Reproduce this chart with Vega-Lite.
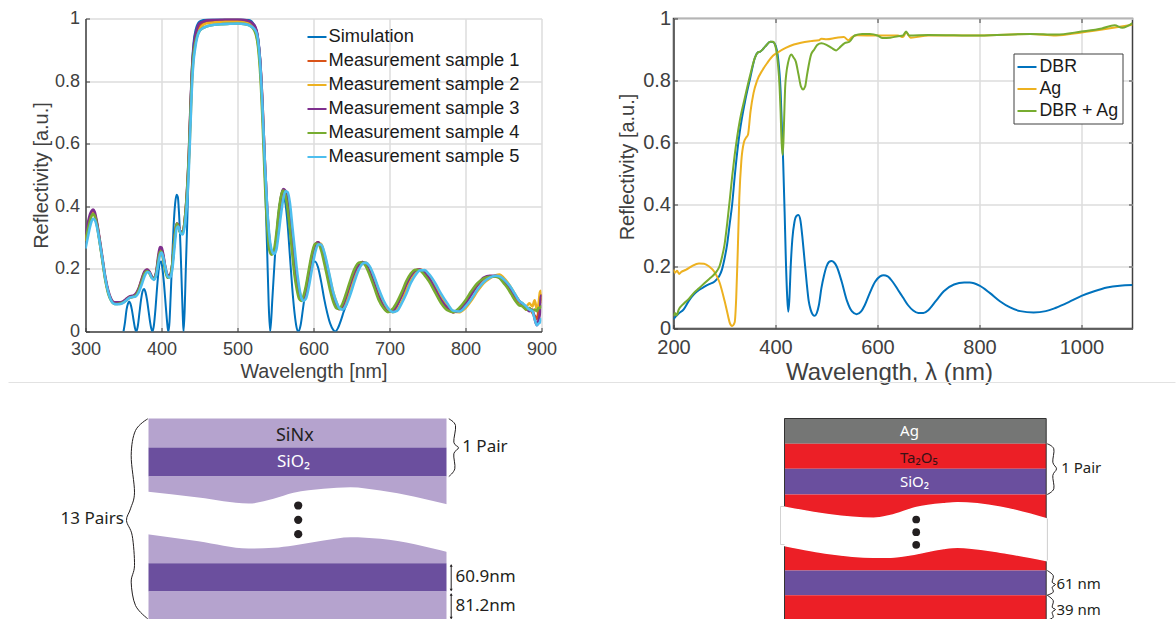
{"$schema":"https://vega.github.io/schema/vega-lite/v6.json","background":"white","padding":{"left":7.5,"top":7.5,"right":0,"bottom":0},"columns":2,"align":"each","bounds":"flush","spacing":{"row":51,"column":132},"resolve":{"scale":{"color":"independent"},"legend":{"color":"independent"}},
"config":{"font":"Liberation Sans","view":{"stroke":null},"axis":{"domainColor":"#404040","domainWidth":1.5,"tickColor":"#404040","tickWidth":1,"gridColor":"#dcdcdc","gridWidth":1.5,"labelColor":"#404040","titleColor":"#404040","titleFontWeight":"normal","labelFlush":false,"labelOverlap":false}},
"concat":[
{"width":456,"height":313,"layer":[
{"data":{"values":[{"w":350,"R":0},{"w":352,"R":0.03},{"w":354,"R":0.07},{"w":356,"R":0.09},{"w":357.5,"R":0.096},{"w":359,"R":0.09},{"w":361,"R":0.07},{"w":363,"R":0.04},{"w":365,"R":0.012},{"w":366.8,"R":0},{"w":369,"R":0.02},{"w":371,"R":0.06},{"w":373,"R":0.1},{"w":375,"R":0.128},{"w":377,"R":0.136},{"w":379,"R":0.125},{"w":381,"R":0.1},{"w":383,"R":0.065},{"w":385,"R":0.03},{"w":386.5,"R":0.01},{"w":388,"R":0},{"w":390,"R":0.02},{"w":392,"R":0.07},{"w":394,"R":0.135},{"w":396,"R":0.19},{"w":398,"R":0.222},{"w":399.5,"R":0.224},{"w":401,"R":0.205},{"w":403,"R":0.16},{"w":405,"R":0.1},{"w":407,"R":0.04},{"w":408,"R":0.015},{"w":409,"R":0},{"w":410.5,"R":0.03},{"w":412,"R":0.11},{"w":414,"R":0.23},{"w":416,"R":0.34},{"w":418,"R":0.41},{"w":420,"R":0.437},{"w":421.5,"R":0.43},{"w":423,"R":0.38},{"w":425,"R":0.27},{"w":427,"R":0.12},{"w":428,"R":0.05},{"w":429,"R":0},{"w":430.5,"R":0.07},{"w":432,"R":0.2},{"w":434,"R":0.36},{"w":436,"R":0.55},{"w":438,"R":0.72},{"w":440,"R":0.85},{"w":442,"R":0.92},{"w":445,"R":0.965},{"w":450,"R":0.99},{"w":455,"R":0.995},{"w":460,"R":0.997},{"w":480,"R":0.998},{"w":500,"R":0.998},{"w":515,"R":0.995},{"w":522,"R":0.98},{"w":527,"R":0.94},{"w":530,"R":0.87},{"w":533,"R":0.72},{"w":535,"R":0.58},{"w":537,"R":0.42},{"w":539,"R":0.26},{"w":541,"R":0.09},{"w":543,"R":0},{"w":546,"R":0.11},{"w":549,"R":0.23},{"w":552,"R":0.33},{"w":555,"R":0.4},{"w":558,"R":0.43},{"w":561,"R":0.43},{"w":563,"R":0.41},{"w":566,"R":0.34},{"w":569,"R":0.24},{"w":572,"R":0.14},{"w":575,"R":0.06},{"w":578,"R":0.01},{"w":580,"R":0},{"w":583,"R":0.02},{"w":586,"R":0.07},{"w":590,"R":0.14},{"w":594,"R":0.19},{"w":598,"R":0.22},{"w":602,"R":0.224},{"w":606,"R":0.205},{"w":610,"R":0.16},{"w":614,"R":0.105},{"w":618,"R":0.06},{"w":622,"R":0.025},{"w":626,"R":0.005},{"w":628.5,"R":0},{"w":632,"R":0.01},{"w":636,"R":0.035},{"w":640,"R":0.065},{"w":644,"R":0.09}]},
"transform":[{"calculate":"'Simulation'","as":"series"}],
"mark":{"type":"line","strokeWidth":2,"interpolate":"monotone","clip":true},
"encoding":{"x":{"field":"w","type":"quantitative","scale":{"domain":[300,900],"nice":false},"axis":{"values":[300,400,500,600,700,800,900],"title":"Wavelength [nm]","labelFontSize":18,"titleFontSize":19.7,"grid":true,"tickSize":-4,"labelPadding":13,"titlePadding":3}},
"y":{"field":"R","type":"quantitative","scale":{"domain":[0,1],"nice":false},"axis":{"values":[0,0.2,0.4,0.6,0.8,1],"format":".1~f","title":"Reflectivity [a.u.]","labelFontSize":18,"titleFontSize":20,"grid":true,"tickSize":-4,"labelPadding":10,"titlePadding":3}},
"color":{"field":"series","type":"nominal","scale":{"domain":["Simulation","Measurement sample 1","Measurement sample 2","Measurement sample 3","Measurement sample 4","Measurement sample 5"],"range":["#0072BD","#D95319","#EDB120","#7E2F8E","#77AC30","#4DBEEE"]},"legend":{"title":null,"orient":"none","legendX":221,"legendY":8,"symbolType":"stroke","symbolSize":361,"symbolStrokeWidth":2,"labelFontSize":18.3,"labelColor":"#1a1a1a","labelLimit":300,"labelOffset":1,"rowPadding":5,"padding":0,"strokeColor":null}}}},
{"data":{"values":[
{"w":300,"s1":0.29,"s2":0.29,"s3":0.31,"s4":0.29,"s5":0.265},{"w":303,"s1":0.325,"s2":0.325,"s3":0.345,"s4":0.325,"s5":0.3},{"w":306,"s1":0.36,"s2":0.36,"s3":0.375,"s4":0.355,"s5":0.335},{"w":308,"s1":0.375,"s2":0.372,"s3":0.385,"s4":0.37,"s5":0.352},{"w":310,"s1":0.382,"s2":0.378,"s3":0.39,"s4":0.375,"s5":0.36},{"w":312,"s1":0.375,"s2":0.372,"s3":0.383,"s4":0.37,"s5":0.357},{"w":315,"s1":0.345,"s2":0.345,"s3":0.35,"s4":0.34,"s5":0.335},{"w":318,"s1":0.3,"s2":0.3,"s3":0.305,"s4":0.295,"s5":0.295},{"w":322,"s1":0.235,"s2":0.235,"s3":0.24,"s4":0.23,"s5":0.235},{"w":326,"s1":0.17,"s2":0.17,"s3":0.175,"s4":0.165,"s5":0.17},{"w":330,"s1":0.125,"s2":0.125,"s3":0.13,"s4":0.12,"s5":0.125},{"w":334,"s1":0.1,"s2":0.1,"s3":0.103,"s4":0.097,"s5":0.098},{"w":338,"s1":0.09,"s2":0.09,"s3":0.093,"s4":0.088,"s5":0.088},{"w":342,"s1":0.09,"s2":0.09,"s3":0.093,"s4":0.088,"s5":0.087},{"w":346,"s1":0.09,"s2":0.09,"s3":0.093,"s4":0.09,"s5":0.088},{"w":350,"s1":0.095,"s2":0.095,"s3":0.097,"s4":0.093,"s5":0.092},{"w":354,"s1":0.103,"s2":0.103,"s3":0.105,"s4":0.1,"s5":0.1},{"w":358,"s1":0.11,"s2":0.11,"s3":0.112,"s4":0.108,"s5":0.108},{"w":362,"s1":0.112,"s2":0.112,"s3":0.114,"s4":0.11,"s5":0.11},{"w":366,"s1":0.118,"s2":0.115,"s3":0.12,"s4":0.115,"s5":0.112},{"w":370,"s1":0.135,"s2":0.135,"s3":0.138,"s4":0.132,"s5":0.125},{"w":374,"s1":0.165,"s2":0.165,"s3":0.168,"s4":0.16,"s5":0.15},{"w":378,"s1":0.19,"s2":0.19,"s3":0.193,"s4":0.186,"s5":0.178},{"w":381,"s1":0.197,"s2":0.197,"s3":0.198,"s4":0.193,"s5":0.19},{"w":384,"s1":0.19,"s2":0.19,"s3":0.192,"s4":0.186,"s5":0.188},{"w":387,"s1":0.175,"s2":0.175,"s3":0.177,"s4":0.172,"s5":0.172},{"w":390,"s1":0.168,"s2":0.168,"s3":0.17,"s4":0.168,"s5":0.165},{"w":393,"s1":0.185,"s2":0.185,"s3":0.19,"s4":0.185,"s5":0.18},{"w":396,"s1":0.235,"s2":0.235,"s3":0.245,"s4":0.232,"s5":0.22},{"w":398,"s1":0.258,"s2":0.258,"s3":0.27,"s4":0.255,"s5":0.245},{"w":400,"s1":0.262,"s2":0.258,"s3":0.268,"s4":0.255,"s5":0.252},{"w":402,"s1":0.245,"s2":0.24,"s3":0.25,"s4":0.235,"s5":0.24},{"w":405,"s1":0.205,"s2":0.2,"s3":0.205,"s4":0.195,"s5":0.205},{"w":408,"s1":0.178,"s2":0.175,"s3":0.18,"s4":0.172,"s5":0.176},{"w":411,"s1":0.178,"s2":0.175,"s3":0.18,"s4":0.175,"s5":0.172},{"w":414,"s1":0.21,"s2":0.205,"s3":0.21,"s4":0.21,"s5":0.195},{"w":417,"s1":0.29,"s2":0.285,"s3":0.29,"s4":0.29,"s5":0.265},{"w":420,"s1":0.345,"s2":0.34,"s3":0.345,"s4":0.345,"s5":0.33},{"w":422,"s1":0.34,"s2":0.335,"s3":0.34,"s4":0.335,"s5":0.335},{"w":425,"s1":0.318,"s2":0.315,"s3":0.318,"s4":0.315,"s5":0.315},{"w":428,"s1":0.32,"s2":0.318,"s3":0.32,"s4":0.318,"s5":0.31},{"w":431,"s1":0.365,"s2":0.36,"s3":0.365,"s4":0.365,"s5":0.345},{"w":434,"s1":0.46,"s2":0.45,"s3":0.47,"s4":0.465,"s5":0.43},{"w":436,"s1":0.56,"s2":0.54,"s3":0.57,"s4":0.56,"s5":0.52},{"w":438,"s1":0.7,"s2":0.66,"s3":0.71,"s4":0.69,"s5":0.65},{"w":440,"s1":0.82,"s2":0.79,"s3":0.83,"s4":0.81,"s5":0.78},{"w":442,"s1":0.89,"s2":0.87,"s3":0.9,"s4":0.88,"s5":0.86},{"w":444,"s1":0.925,"s2":0.91,"s3":0.94,"s4":0.915,"s5":0.9},{"w":447,"s1":0.96,"s2":0.945,"s3":0.97,"s4":0.945,"s5":0.94},{"w":450,"s1":0.975,"s2":0.965,"s3":0.985,"s4":0.96,"s5":0.96},{"w":455,"s1":0.985,"s2":0.98,"s3":0.99,"s4":0.97,"s5":0.97},{"w":460,"s1":0.99,"s2":0.985,"s3":0.994,"s4":0.975,"s5":0.975},{"w":470,"s1":0.993,"s2":0.988,"s3":0.996,"s4":0.98,"s5":0.98},{"w":480,"s1":0.995,"s2":0.99,"s3":0.997,"s4":0.982,"s5":0.982},{"w":490,"s1":0.996,"s2":0.99,"s3":0.998,"s4":0.983,"s5":0.983},{"w":500,"s1":0.996,"s2":0.99,"s3":0.998,"s4":0.984,"s5":0.984},{"w":510,"s1":0.993,"s2":0.987,"s3":0.995,"s4":0.982,"s5":0.982},{"w":518,"s1":0.985,"s2":0.98,"s3":0.988,"s4":0.975,"s5":0.975},{"w":524,"s1":0.965,"s2":0.955,"s3":0.97,"s4":0.95,"s5":0.96},{"w":527,"s1":0.93,"s2":0.92,"s3":0.935,"s4":0.91,"s5":0.93},{"w":530,"s1":0.855,"s2":0.84,"s3":0.86,"s4":0.82,"s5":0.85},{"w":533,"s1":0.72,"s2":0.7,"s3":0.72,"s4":0.67,"s5":0.71},{"w":536,"s1":0.54,"s2":0.52,"s3":0.54,"s4":0.48,"s5":0.54},{"w":539,"s1":0.39,"s2":0.37,"s3":0.39,"s4":0.34,"s5":0.4},{"w":542,"s1":0.29,"s2":0.28,"s3":0.29,"s4":0.26,"s5":0.305},{"w":545,"s1":0.255,"s2":0.25,"s3":0.255,"s4":0.245,"s5":0.26},{"w":548,"s1":0.25,"s2":0.25,"s3":0.25,"s4":0.26,"s5":0.248},{"w":551,"s1":0.29,"s2":0.28,"s3":0.29,"s4":0.31,"s5":0.26},{"w":554,"s1":0.36,"s2":0.34,"s3":0.36,"s4":0.38,"s5":0.31},{"w":557,"s1":0.42,"s2":0.4,"s3":0.425,"s4":0.43,"s5":0.37},{"w":560,"s1":0.45,"s2":0.44,"s3":0.455,"s4":0.45,"s5":0.42},{"w":563,"s1":0.445,"s2":0.445,"s3":0.45,"s4":0.435,"s5":0.448},{"w":566,"s1":0.41,"s2":0.425,"s3":0.41,"s4":0.39,"s5":0.445},{"w":569,"s1":0.35,"s2":0.375,"s3":0.35,"s4":0.325,"s5":0.41},{"w":572,"s1":0.28,"s2":0.31,"s3":0.28,"s4":0.25,"s5":0.34},{"w":575,"s1":0.21,"s2":0.245,"s3":0.21,"s4":0.18,"s5":0.27},{"w":578,"s1":0.155,"s2":0.18,"s3":0.155,"s4":0.135,"s5":0.2},{"w":581,"s1":0.115,"s2":0.135,"s3":0.115,"s4":0.105,"s5":0.145},{"w":584,"s1":0.1,"s2":0.11,"s3":0.1,"s4":0.098,"s5":0.108},{"w":587,"s1":0.105,"s2":0.1,"s3":0.105,"s4":0.115,"s5":0.098},{"w":590,"s1":0.13,"s2":0.115,"s3":0.13,"s4":0.145,"s5":0.105},{"w":594,"s1":0.185,"s2":0.16,"s3":0.185,"s4":0.2,"s5":0.145},{"w":598,"s1":0.24,"s2":0.215,"s3":0.24,"s4":0.25,"s5":0.2},{"w":602,"s1":0.275,"s2":0.26,"s3":0.275,"s4":0.28,"s5":0.25},{"w":606,"s1":0.285,"s2":0.28,"s3":0.285,"s4":0.28,"s5":0.278},{"w":610,"s1":0.27,"s2":0.28,"s3":0.27,"s4":0.26,"s5":0.278},{"w":614,"s1":0.235,"s2":0.25,"s3":0.235,"s4":0.22,"s5":0.255},{"w":618,"s1":0.19,"s2":0.21,"s3":0.19,"s4":0.175,"s5":0.215},{"w":622,"s1":0.145,"s2":0.165,"s3":0.145,"s4":0.13,"s5":0.17},{"w":626,"s1":0.105,"s2":0.125,"s3":0.105,"s4":0.095,"s5":0.125},{"w":630,"s1":0.08,"s2":0.095,"s3":0.08,"s4":0.075,"s5":0.095},{"w":634,"s1":0.072,"s2":0.075,"s3":0.072,"s4":0.072,"s5":0.075},{"w":638,"s1":0.08,"s2":0.072,"s3":0.08,"s4":0.088,"s5":0.07},{"w":642,"s1":0.105,"s2":0.085,"s3":0.105,"s4":0.115,"s5":0.08},{"w":648,"s1":0.15,"s2":0.125,"s3":0.15,"s4":0.16,"s5":0.115},{"w":654,"s1":0.19,"s2":0.17,"s3":0.19,"s4":0.2,"s5":0.16},{"w":660,"s1":0.215,"s2":0.205,"s3":0.215,"s4":0.22,"s5":0.2},{"w":664,"s1":0.222,"s2":0.218,"s3":0.222,"s4":0.22,"s5":0.215},{"w":668,"s1":0.218,"s2":0.22,"s3":0.218,"s4":0.212,"s5":0.22},{"w":674,"s1":0.19,"s2":0.205,"s3":0.19,"s4":0.18,"s5":0.208},{"w":680,"s1":0.15,"s2":0.17,"s3":0.15,"s4":0.14,"s5":0.175},{"w":686,"s1":0.11,"s2":0.13,"s3":0.11,"s4":0.1,"s5":0.135},{"w":692,"s1":0.08,"s2":0.095,"s3":0.08,"s4":0.075,"s5":0.1},{"w":698,"s1":0.064,"s2":0.072,"s3":0.064,"s4":0.062,"s5":0.075},{"w":704,"s1":0.066,"s2":0.062,"s3":0.066,"s4":0.072,"s5":0.062},{"w":710,"s1":0.085,"s2":0.07,"s3":0.085,"s4":0.095,"s5":0.066},{"w":716,"s1":0.115,"s2":0.095,"s3":0.115,"s4":0.125,"s5":0.09},{"w":722,"s1":0.15,"s2":0.13,"s3":0.15,"s4":0.16,"s5":0.12},{"w":728,"s1":0.178,"s2":0.162,"s3":0.178,"s4":0.185,"s5":0.155},{"w":734,"s1":0.195,"s2":0.185,"s3":0.195,"s4":0.197,"s5":0.18},{"w":740,"s1":0.198,"s2":0.197,"s3":0.198,"s4":0.195,"s5":0.195},{"w":746,"s1":0.188,"s2":0.195,"s3":0.188,"s4":0.18,"s5":0.196},{"w":752,"s1":0.17,"s2":0.18,"s3":0.17,"s4":0.16,"s5":0.183},{"w":760,"s1":0.135,"s2":0.15,"s3":0.135,"s4":0.125,"s5":0.155},{"w":768,"s1":0.1,"s2":0.115,"s3":0.1,"s4":0.09,"s5":0.12},{"w":776,"s1":0.075,"s2":0.085,"s3":0.075,"s4":0.068,"s5":0.09},{"w":784,"s1":0.062,"s2":0.065,"s3":0.062,"s4":0.062,"s5":0.066},{"w":792,"s1":0.068,"s2":0.062,"s3":0.068,"s4":0.076,"s5":0.064},{"w":800,"s1":0.09,"s2":0.075,"s3":0.09,"s4":0.1,"s5":0.08},{"w":808,"s1":0.12,"s2":0.1,"s3":0.12,"s4":0.13,"s5":0.105},{"w":816,"s1":0.148,"s2":0.13,"s3":0.15,"s4":0.155,"s5":0.135},{"w":824,"s1":0.168,"s2":0.155,"s3":0.172,"s4":0.17,"s5":0.158},{"w":832,"s1":0.175,"s2":0.17,"s3":0.178,"s4":0.175,"s5":0.172},{"w":840,"s1":0.175,"s2":0.18,"s3":0.178,"s4":0.175,"s5":0.178},{"w":845,"s1":0.172,"s2":0.182,"s3":0.172,"s4":0.17,"s5":0.176},{"w":850,"s1":0.165,"s2":0.172,"s3":0.162,"s4":0.155,"s5":0.168},{"w":855,"s1":0.15,"s2":0.158,"s3":0.15,"s4":0.14,"s5":0.155},{"w":860,"s1":0.13,"s2":0.14,"s3":0.132,"s4":0.12,"s5":0.14},{"w":865,"s1":0.11,"s2":0.12,"s3":0.115,"s4":0.1,"s5":0.12},{"w":870,"s1":0.095,"s2":0.1,"s3":0.1,"s4":0.085,"s5":0.1},{"w":875,"s1":0.09,"s2":0.085,"s3":0.085,"s4":0.08,"s5":0.09},{"w":880,"s1":0.07,"s2":0.08,"s3":0.075,"s4":0.07,"s5":0.08},{"w":884,"s1":0.075,"s2":0.09,"s3":0.065,"s4":0.075,"s5":0.07},{"w":888,"s1":0.06,"s2":0.08,"s3":0.07,"s4":0.065,"s5":0.065},{"w":891,"s1":0.05,"s2":0.1,"s3":0.04,"s4":0.07,"s5":0.04},{"w":894,"s1":0.04,"s2":0.07,"s3":0.02,"s4":0.065,"s5":0.02},{"w":896,"s1":0.065,"s2":0.085,"s3":0.035,"s4":0.075,"s5":0.025},{"w":898,"s1":0.11,"s2":0.125,"s3":0.06,"s4":0.075,"s5":0.03},{"w":899,"s1":0.1,"s2":0.13,"s3":0.115,"s4":0.08,"s5":0.04},{"w":900,"s1":0.12,"s2":0.09,"s3":0.11,"s4":0.08,"s5":0.04}]},
"transform":[{"fold":["s1","s2","s3","s4","s5"],"as":["key","R"]},{"calculate":"'Measurement sample ' + slice(datum.key, 1)","as":"series"}],
"mark":{"type":"line","strokeWidth":2.6,"interpolate":"monotone","clip":true},
"encoding":{"x":{"field":"w","type":"quantitative"},"y":{"field":"R","type":"quantitative"},"color":{"field":"series","type":"nominal"}}}
]},
{"width":459,"height":310,"view":{"stroke":"#404040","strokeWidth":1.5},"resolve":{"scale":{"x":"independent","y":"independent"}},"layer":[
{"layer":[
{"data":{"values":[{"w":200,"R":0.03},{"w":205,"R":0.04},{"w":210,"R":0.048},{"w":220,"R":0.062},{"w":230,"R":0.089},{"w":240,"R":0.11},{"w":250,"R":0.124},{"w":260,"R":0.134},{"w":270,"R":0.143},{"w":280,"R":0.151},{"w":290,"R":0.17},{"w":295,"R":0.19},{"w":300,"R":0.225},{"w":305,"R":0.27},{"w":310,"R":0.335},{"w":315,"R":0.4},{"w":320,"R":0.49},{"w":325,"R":0.57},{"w":330,"R":0.635},{"w":340,"R":0.73},{"w":350,"R":0.805},{"w":360,"R":0.875},{"w":365,"R":0.89},{"w":370,"R":0.893},{"w":380,"R":0.91},{"w":390,"R":0.925},{"w":395,"R":0.924},{"w":400,"R":0.913},{"w":405,"R":0.873},{"w":410,"R":0.766},{"w":413,"R":0.626},{"w":415,"R":0.54},{"w":418,"R":0.368},{"w":420,"R":0.24},{"w":423,"R":0.1},{"w":425,"R":0.054},{"w":427,"R":0.089},{"w":430,"R":0.207},{"w":433,"R":0.288},{"w":437,"R":0.342},{"w":441,"R":0.363},{"w":445,"R":0.366},{"w":449,"R":0.347},{"w":453,"R":0.29},{"w":457,"R":0.22},{"w":461,"R":0.15},{"w":465,"R":0.09},{"w":469,"R":0.06},{"w":473,"R":0.045},{"w":477,"R":0.041},{"w":481,"R":0.05},{"w":485,"R":0.075},{"w":490,"R":0.13},{"w":495,"R":0.17},{"w":500,"R":0.2},{"w":505,"R":0.215},{"w":510,"R":0.218},{"w":515,"R":0.213},{"w":520,"R":0.2},{"w":530,"R":0.15},{"w":540,"R":0.09},{"w":550,"R":0.055},{"w":559,"R":0.046},{"w":568,"R":0.055},{"w":575,"R":0.075},{"w":585,"R":0.115},{"w":595,"R":0.15},{"w":605,"R":0.168},{"w":612,"R":0.172},{"w":620,"R":0.168},{"w":630,"R":0.15},{"w":640,"R":0.125},{"w":650,"R":0.1},{"w":660,"R":0.075},{"w":670,"R":0.058},{"w":680,"R":0.05},{"w":690,"R":0.05},{"w":700,"R":0.06},{"w":715,"R":0.09},{"w":730,"R":0.12},{"w":750,"R":0.142},{"w":770,"R":0.148},{"w":781,"R":0.148},{"w":800,"R":0.138},{"w":820,"R":0.115},{"w":840,"R":0.088},{"w":860,"R":0.068},{"w":880,"R":0.056},{"w":906,"R":0.052},{"w":930,"R":0.056},{"w":950,"R":0.067},{"w":975,"R":0.085},{"w":1000,"R":0.105},{"w":1025,"R":0.12},{"w":1050,"R":0.132},{"w":1075,"R":0.138},{"w":1100,"R":0.14}]},
"transform":[{"calculate":"'DBR'","as":"series"}],
"mark":{"type":"line","strokeWidth":2,"interpolate":"monotone","clip":true},
"encoding":{"x":{"field":"w","type":"quantitative","scale":{"domain":[200,1100],"nice":false},"axis":{"values":[200,400,600,800,1000],"format":"d","title":"Wavelength, λ (nm)","labelFontSize":20,"titleFontSize":24,"titleX":215.5,"grid":true,"tickSize":-4,"labelPadding":13,"titlePadding":3}},
"y":{"field":"R","type":"quantitative","scale":{"domain":[0,1],"nice":false},"axis":{"values":[0,0.2,0.4,0.6,0.8,1],"format":".1~f","title":"Reflectivity [a.u.]","labelFontSize":20,"titleFontSize":20,"titleX":-36,"titleY":148,"grid":true,"tickSize":-4,"labelPadding":7,"titlePadding":0}},
"color":{"field":"series","type":"nominal","scale":{"domain":["DBR","Ag","DBR + Ag"],"range":["#0072BD","#EDB120","#77AC30"]},"legend":{"title":null,"orient":"none","legendX":340,"legendY":35,"symbolType":"stroke","symbolSize":361,"symbolStrokeWidth":2,"labelFontSize":17.8,"labelColor":"#1a1a1a","labelOffset":2,"rowPadding":2,"padding":3,"fillColor":"white","strokeColor":"#404040"}}}},
{"data":{"values":[{"w":200,"R":0.19},{"w":203,"R":0.18},{"w":207,"R":0.186},{"w":211,"R":0.176},{"w":215,"R":0.182},{"w":225,"R":0.19},{"w":235,"R":0.2},{"w":250,"R":0.21},{"w":260,"R":0.209},{"w":270,"R":0.2},{"w":280,"R":0.183},{"w":290,"R":0.15},{"w":300,"R":0.09},{"w":305,"R":0.055},{"w":310,"R":0.02},{"w":315,"R":0.008},{"w":320,"R":0.02},{"w":323,"R":0.1},{"w":326,"R":0.25},{"w":329,"R":0.42},{"w":333,"R":0.54},{"w":338,"R":0.6},{"w":342,"R":0.615},{"w":346,"R":0.625},{"w":351,"R":0.7},{"w":357,"R":0.76},{"w":364,"R":0.8},{"w":375,"R":0.835},{"w":384,"R":0.857},{"w":395,"R":0.88},{"w":404,"R":0.89},{"w":420,"R":0.905},{"w":436,"R":0.916},{"w":450,"R":0.922},{"w":469,"R":0.927},{"w":485,"R":0.93},{"w":490,"R":0.935},{"w":500,"R":0.933},{"w":520,"R":0.938},{"w":534,"R":0.94},{"w":543,"R":0.93},{"w":550,"R":0.94},{"w":560,"R":0.946},{"w":600,"R":0.945},{"w":640,"R":0.945},{"w":650,"R":0.94},{"w":656,"R":0.955},{"w":665,"R":0.938},{"w":700,"R":0.945},{"w":800,"R":0.945},{"w":900,"R":0.95},{"w":950,"R":0.945},{"w":1000,"R":0.955},{"w":1050,"R":0.967},{"w":1100,"R":0.98}]},
"transform":[{"calculate":"'Ag'","as":"series"}],
"mark":{"type":"line","strokeWidth":2,"interpolate":"monotone","clip":true},
"encoding":{"x":{"field":"w","type":"quantitative"},"y":{"field":"R","type":"quantitative"},"color":{"field":"series","type":"nominal"}}},
{"data":{"values":[{"w":200,"R":0.04},{"w":203,"R":0.05},{"w":206,"R":0.042},{"w":210,"R":0.06},{"w":220,"R":0.08},{"w":230,"R":0.095},{"w":240,"R":0.115},{"w":250,"R":0.13},{"w":260,"R":0.145},{"w":270,"R":0.16},{"w":280,"R":0.175},{"w":285,"R":0.185},{"w":290,"R":0.2},{"w":295,"R":0.23},{"w":300,"R":0.27},{"w":305,"R":0.335},{"w":310,"R":0.41},{"w":315,"R":0.49},{"w":320,"R":0.56},{"w":325,"R":0.62},{"w":330,"R":0.67},{"w":340,"R":0.745},{"w":350,"R":0.815},{"w":360,"R":0.875},{"w":365,"R":0.89},{"w":370,"R":0.893},{"w":380,"R":0.91},{"w":390,"R":0.925},{"w":395,"R":0.925},{"w":400,"R":0.91},{"w":405,"R":0.85},{"w":408,"R":0.78},{"w":410,"R":0.7},{"w":412,"R":0.6},{"w":414,"R":0.56},{"w":415.5,"R":0.6},{"w":417,"R":0.68},{"w":419,"R":0.78},{"w":421,"R":0.82},{"w":425,"R":0.86},{"w":431,"R":0.884},{"w":435,"R":0.875},{"w":440,"R":0.86},{"w":445,"R":0.82},{"w":450,"R":0.78},{"w":454,"R":0.771},{"w":458,"R":0.78},{"w":462,"R":0.82},{"w":470,"R":0.885},{"w":476,"R":0.9},{"w":482,"R":0.915},{"w":490,"R":0.92},{"w":500,"R":0.915},{"w":510,"R":0.905},{"w":519,"R":0.897},{"w":525,"R":0.905},{"w":535,"R":0.92},{"w":545,"R":0.925},{"w":555,"R":0.945},{"w":570,"R":0.95},{"w":585,"R":0.95},{"w":600,"R":0.945},{"w":610,"R":0.937},{"w":625,"R":0.938},{"w":640,"R":0.943},{"w":650,"R":0.945},{"w":656,"R":0.958},{"w":662,"R":0.945},{"w":700,"R":0.947},{"w":800,"R":0.945},{"w":900,"R":0.95},{"w":950,"R":0.948},{"w":1000,"R":0.958},{"w":1040,"R":0.968},{"w":1065,"R":0.978},{"w":1080,"R":0.97},{"w":1100,"R":0.985}]},
"transform":[{"calculate":"'DBR + Ag'","as":"series"}],
"mark":{"type":"line","strokeWidth":2,"interpolate":"monotone","clip":true},
"encoding":{"x":{"field":"w","type":"quantitative"},"y":{"field":"R","type":"quantitative"},"color":{"field":"series","type":"nominal"}}}
]},
{"data":{"values":[{"w":200,"R":0},{"w":1100,"R":1}]},"mark":{"type":"line","opacity":0},
"encoding":{"x":{"field":"w","type":"quantitative","scale":{"domain":[200,1100],"nice":false},"axis":{"orient":"top","values":[400,600,800,1000],"labels":false,"title":null,"grid":false,"tickSize":-4,"domain":false}},
"y":{"field":"R","type":"quantitative","scale":{"domain":[0,1],"nice":false},"axis":{"orient":"right","values":[0.2,0.4,0.6,0.8],"labels":false,"title":null,"grid":false,"tickSize":-4,"domain":false}}}}
]},
{"width":456,"height":237,"encoding":{"x":{"field":"x","type":"quantitative","axis":null,"scale":{"domain":[-63,393],"nice":false,"zero":false}},"y":{"field":"y","type":"quantitative","axis":null,"scale":{"domain":[-36,201],"nice":false,"zero":false,"reverse":true}}},"layer":[
{"data":{"values":[{"x":-140,"x2":1027,"y":-36}]},"mark":{"type":"rule","color":"#e2e2e2","strokeWidth":1},"encoding":{"x2":{"field":"x2"}}},
{"data":{"values":[{"x":0,"x2":298,"y":0,"y2":29,"material":"SiNx"},{"x":0,"x2":298,"y":29,"y2":58,"material":"SiO2"},{"x":0,"x2":298,"y":58,"y2":144.7,"material":"SiNx"},{"x":0,"x2":298,"y":144.7,"y2":173,"material":"SiO2"},{"x":0,"x2":298,"y":173,"y2":201,"material":"SiNx"}]},"mark":{"type":"rect"},"encoding":{"x2":{"field":"x2"},"y2":{"field":"y2"},"color":{"field":"material","type":"nominal","legend":null,"scale":{"domain":["SiNx","SiO2"],"range":["#B5A3CE","#6B4F9E"]}}}},
{"data":{"values":[{"x":-4.7,"y":72.7,"y2":115.3},{"x":50,"y":79,"y2":122.7},{"x":100,"y":85,"y2":130},{"x":125,"y":80.3,"y2":129.3},{"x":145,"y":74.3,"y2":127},{"x":175,"y":70.3,"y2":122},{"x":202,"y":68.7,"y2":118.7},{"x":232,"y":72,"y2":120.3},{"x":300.7,"y":86.3,"y2":134}]},"mark":{"type":"area","color":"white","interpolate":"monotone"},"encoding":{"y2":{"field":"y2"}}},
{"data":{"values":[{"x":149.7,"y":87},{"x":149.7,"y":101.3},{"x":149.7,"y":115.7}]},"mark":{"type":"point","shape":"circle","filled":true,"color":"#231F20","size":68,"opacity":1}},
{"data":{"values":[{"part":"a","i":0,"x":300.3,"y":0.3},{"part":"a","i":1,"x":307,"y":7},{"part":"a","i":2,"x":305.3,"y":23.7},{"part":"a","i":3,"x":310,"y":29.3},{"part":"a","i":4,"x":305.3,"y":35.3},{"part":"a","i":5,"x":306.3,"y":50.3},{"part":"a","i":6,"x":300.3,"y":58},{"part":"b","i":0,"x":-0.7,"y":0.3},{"part":"b","i":1,"x":-13,"y":12},{"part":"b","i":2,"x":-17.3,"y":37},{"part":"b","i":3,"x":-14,"y":73.7},{"part":"b","i":4,"x":-18,"y":90.3},{"part":"b","i":5,"x":-22,"y":102},{"part":"b","i":6,"x":-16.3,"y":117},{"part":"b","i":7,"x":-14,"y":147},{"part":"b","i":8,"x":-17.3,"y":163.7},{"part":"b","i":9,"x":-13,"y":187},{"part":"b","i":10,"x":-0.7,"y":200.3},{"part":"c","i":0,"x":302.7,"y":146.3},{"part":"c","i":1,"x":302.7,"y":172},{"part":"d","i":0,"x":302.7,"y":175.3},{"part":"d","i":1,"x":302.7,"y":200}]},"mark":{"type":"line","color":"#231F20","strokeWidth":1,"interpolate":"cardinal"},"encoding":{"detail":{"field":"part"},"order":{"field":"i"}}},
{"data":{"values":[{"x":302.7,"y":147},{"x":302.7,"y":176}]},"mark":{"type":"point","shape":"triangle-up","filled":true,"color":"#231F20","size":9,"opacity":1}},
{"data":{"values":[{"x":302.7,"y":171.5},{"x":302.7,"y":199.5}]},"mark":{"type":"point","shape":"triangle-down","filled":true,"color":"#231F20","size":9,"opacity":1}},
{"data":{"values":[{"x":313.7,"y":28.7,"label":"1 Pair"},{"x":307,"y":158.7,"label":"60.9nm"},{"x":307,"y":187,"label":"81.2nm"}]},"mark":{"type":"text","font":"Noto Sans","fontSize":17,"align":"left","color":"#231F20"},"encoding":{"text":{"field":"label"}}},
{"data":{"values":[{"x":-24.7,"y":100.3,"label":"13 Pairs"}]},"mark":{"type":"text","font":"Noto Sans","fontSize":17,"align":"right","color":"#231F20"},"encoding":{"text":{"field":"label"}}},
{"data":{"values":[{"x":146.3,"y":17,"label":"SiNx"}]},"mark":{"type":"text","font":"Noto Sans","fontSize":18,"align":"center","color":"#231F20"},"encoding":{"text":{"field":"label"}}},
{"data":{"values":[{"x":145,"y":43.7,"label":"SiO₂"}]},"mark":{"type":"text","font":"Noto Sans","fontSize":17,"align":"center","color":"white"},"encoding":{"text":{"field":"label"}}}
]},
{"width":459,"height":237,"encoding":{"x":{"field":"x","type":"quantitative","axis":null,"scale":{"domain":[-110,349],"nice":false,"zero":false}},"y":{"field":"y","type":"quantitative","axis":null,"scale":{"domain":[-36,201],"nice":false,"zero":false,"reverse":true}}},"layer":[
{"data":{"values":[{"x":1,"x2":262.7,"y":0,"y2":25.3,"material":"Ag"},{"x":1,"x2":262.7,"y":25.3,"y2":50.3,"material":"Ta2O5"},{"x":1,"x2":262.7,"y":50.3,"y2":76,"material":"SiO2"},{"x":1,"x2":262.7,"y":76,"y2":152,"material":"Ta2O5"},{"x":1,"x2":262.7,"y":152,"y2":176.7,"material":"SiO2"},{"x":1,"x2":262.7,"y":176.7,"y2":201,"material":"Ta2O5"}]},"mark":{"type":"rect"},"encoding":{"x2":{"field":"x2"},"y2":{"field":"y2"},"color":{"field":"material","type":"nominal","legend":null,"scale":{"domain":["Ag","Ta2O5","SiO2"],"range":["#757675","#EC1F26","#6A4F9E"]}}}},
{"data":{"values":[{"x":1,"x2":1,"y":0,"y2":201},{"x":262.7,"x2":262.7,"y":0,"y2":201},{"x":1,"x2":262.7,"y":0,"y2":0}]},"mark":{"type":"rule","color":"#333333","strokeWidth":1},"encoding":{"x2":{"field":"x2"},"y2":{"field":"y2"}}},
{"data":{"values":[{"x":1,"y":88.7,"y2":127},{"x":90,"y":99.7,"y2":138.7},{"x":107,"y":97,"y2":138.7},{"x":133,"y":89,"y2":135.3},{"x":160,"y":85.3,"y2":130},{"x":174,"y":84.3,"y2":128.7},{"x":217,"y":88.7,"y2":133.7},{"x":262.7,"y":100.3,"y2":142}]},"mark":{"type":"area","color":"white","interpolate":"monotone","stroke":"white","strokeWidth":1.5},"encoding":{"y2":{"field":"y2"}}},
{"data":{"values":[{"x":-3,"x2":1,"y":88,"y2":88},{"x":-3,"x2":1,"y":126,"y2":126},{"x":-3,"x2":-3,"y":88,"y2":126},{"x":264,"x2":264,"y":100,"y2":142}]},"mark":{"type":"rule","color":"#c8c8c8","strokeWidth":0.8},"encoding":{"x2":{"field":"x2"},"y2":{"field":"y2"}}},
{"data":{"values":[{"x":132.7,"y":101},{"x":132.7,"y":113.7},{"x":132.7,"y":126.3}]},"mark":{"type":"point","shape":"circle","filled":true,"color":"#231F20","size":60,"opacity":1}},
{"data":{"values":[{"part":"a","i":0,"x":263.7,"y":25.3},{"part":"a","i":1,"x":270.3,"y":30.3},{"part":"a","i":2,"x":269.3,"y":43.7},{"part":"a","i":3,"x":273,"y":50.3},{"part":"a","i":4,"x":269.3,"y":57},{"part":"a","i":5,"x":270.3,"y":70.3},{"part":"a","i":6,"x":263.7,"y":76},{"part":"b","i":0,"x":263.7,"y":152},{"part":"b","i":1,"x":269.7,"y":157},{"part":"b","i":2,"x":268.7,"y":163.7},{"part":"b","i":3,"x":272,"y":166},{"part":"b","i":4,"x":268.7,"y":168.7},{"part":"b","i":5,"x":269.7,"y":173.7},{"part":"b","i":6,"x":263.7,"y":176.7},{"part":"c","i":0,"x":263.7,"y":176.7},{"part":"c","i":1,"x":269.7,"y":182},{"part":"c","i":2,"x":268.7,"y":188.7},{"part":"c","i":3,"x":272,"y":191},{"part":"c","i":4,"x":268.7,"y":193.7},{"part":"c","i":5,"x":269.7,"y":198.7},{"part":"c","i":6,"x":265.7,"y":201}]},"mark":{"type":"line","color":"#231F20","strokeWidth":1,"interpolate":"cardinal"},"encoding":{"detail":{"field":"part"},"order":{"field":"i"}}},
{"data":{"values":[{"x":277.7,"y":49.7,"label":"1 Pair"},{"x":273,"y":165.3,"label":"61 nm"},{"x":273,"y":191,"label":"39 nm"}]},"mark":{"type":"text","font":"Noto Sans","fontSize":15,"align":"left","color":"#231F20"},"encoding":{"text":{"field":"label"}}},
{"data":{"values":[{"x":135.3,"y":39.7,"label":"Ta₂O₅"}]},"mark":{"type":"text","font":"Noto Sans","fontSize":15,"align":"center","color":"#3a1216"},"encoding":{"text":{"field":"label"}}},
{"data":{"values":[{"x":126,"y":12.7,"label":"Ag"},{"x":131,"y":63,"label":"SiO₂"}]},"mark":{"type":"text","font":"Noto Sans","fontSize":15,"align":"center","color":"white"},"encoding":{"text":{"field":"label"}}}
]}
]}
